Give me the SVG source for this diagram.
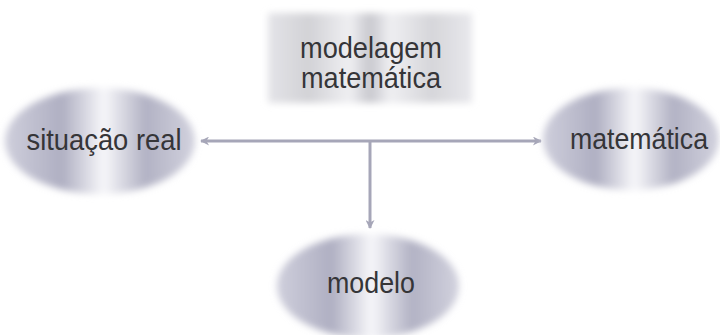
<svg xmlns="http://www.w3.org/2000/svg" width="720" height="335" viewBox="0 0 720 335">
<style>
.lbl{font-family:"Liberation Sans",Arial,sans-serif;font-size:29px;fill:#353538;text-anchor:middle}
.node{filter:url(#soft)}
.conn{stroke:#a6a6b8;stroke-width:3;fill:none}
</style>
<defs>
<linearGradient id="ell" x1="0" y1="0" x2="1" y2="0">
<stop offset="0" stop-color="#cfcfdc"/>
<stop offset="0.3" stop-color="#afafc2"/>
<stop offset="0.52" stop-color="#f7f7fa"/>
<stop offset="0.74" stop-color="#b2b2c4"/>
<stop offset="1" stop-color="#d2d2de"/>
</linearGradient>
<linearGradient id="rec" x1="0" y1="0" x2="1" y2="0">
<stop offset="0" stop-color="#e4e4e8"/>
<stop offset="0.2" stop-color="#d2d2d6"/>
<stop offset="0.4" stop-color="#efeff2"/>
<stop offset="0.5" stop-color="#c8c8ce"/>
<stop offset="0.6" stop-color="#efeff2"/>
<stop offset="0.8" stop-color="#d6d6da"/>
<stop offset="1" stop-color="#e8e8ec"/>
</linearGradient>
<filter id="soft" x="-10%" y="-10%" width="120%" height="120%">
<feGaussianBlur stdDeviation="3.5"/>
</filter>
<marker id="ah" viewBox="0 0 10 10" refX="9" refY="5" markerWidth="10" markerHeight="9" markerUnits="userSpaceOnUse" orient="auto-start-reverse">
<path d="M0,0 L10,5 L0,10 L3,5 Z" fill="#a6a6b8"/>
</marker>
</defs>
<rect width="720" height="335" fill="#ffffff"/>
<g id="connectors">
<line class="conn" x1="201" y1="141" x2="541" y2="141" marker-start="url(#ah)" marker-end="url(#ah)"/>
<line class="conn" x1="370" y1="141" x2="370" y2="228" marker-end="url(#ah)"/>
</g>
<g id="modelagem">
<rect class="node" x="268" y="13" width="204" height="90" fill="url(#rec)"/>
<text class="lbl" x="371" y="58" textLength="142" lengthAdjust="spacingAndGlyphs">modelagem</text>
<text class="lbl" x="371" y="88" textLength="140" lengthAdjust="spacingAndGlyphs">matemática</text>
</g>
<g id="situacao">
<ellipse class="node" cx="100" cy="141" rx="95" ry="53" fill="url(#ell)"/>
<text class="lbl" x="104" y="150" textLength="155" lengthAdjust="spacingAndGlyphs">situação real</text>
</g>
<g id="matematica">
<ellipse class="node" cx="631" cy="139" rx="88" ry="51" fill="url(#ell)"/>
<text class="lbl" x="639" y="149" textLength="138" lengthAdjust="spacingAndGlyphs">matemática</text>
</g>
<g id="modelo">
<ellipse class="node" cx="368" cy="286" rx="91" ry="52" fill="url(#ell)"/>
<text class="lbl" x="371" y="293" textLength="88" lengthAdjust="spacingAndGlyphs">modelo</text>
</g>
</svg>
